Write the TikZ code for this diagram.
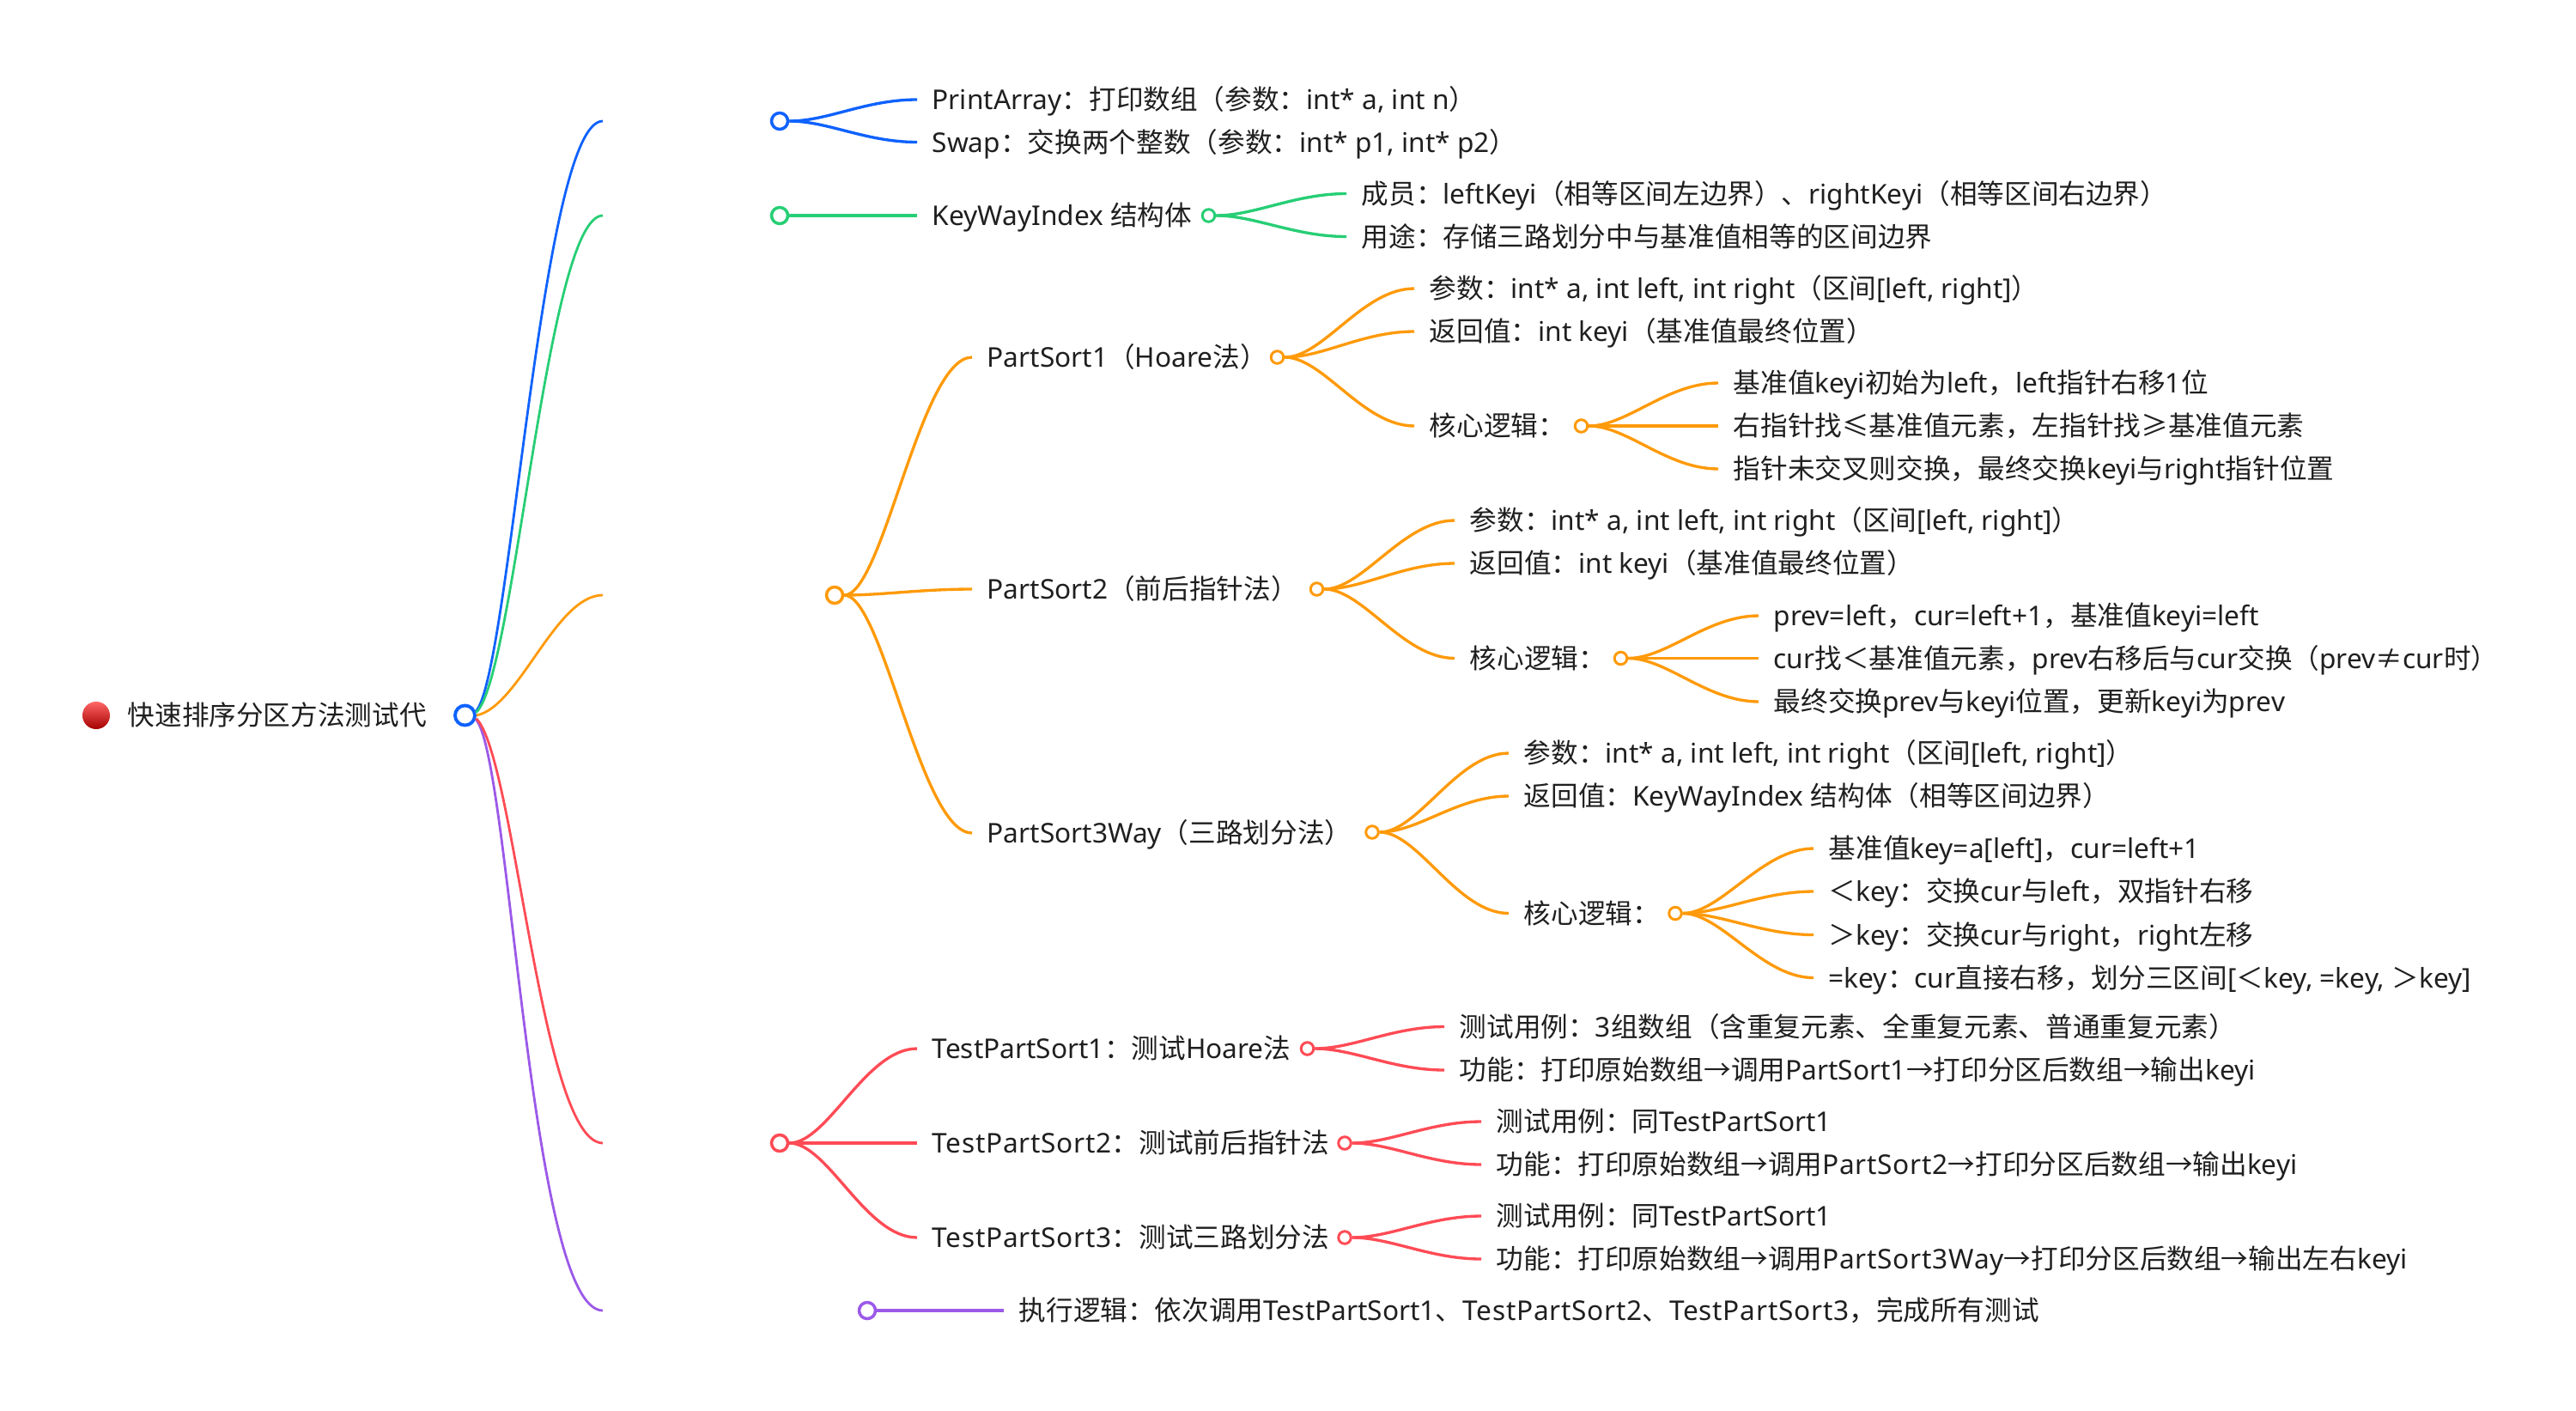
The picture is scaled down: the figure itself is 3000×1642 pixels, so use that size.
\documentclass[tikz,border=0pt]{standalone}
\usepackage{fontspec}
\setmainfont{Noto Sans}
\newfontfamily\cjk{Noto Sans CJK SC}
\XeTeXinterchartokenstate=1
\newXeTeXintercharclass\cjkclass
\newcount\cjkcnt
\cjkcnt="3000
\loop\XeTeXcharclass\cjkcnt=\cjkclass \advance\cjkcnt by 1 \ifnum\cjkcnt<"A000 \repeat
\cjkcnt="FF00
\loop\XeTeXcharclass\cjkcnt=\cjkclass \advance\cjkcnt by 1 \ifnum\cjkcnt<"FF60 \repeat
\XeTeXcharclass"2264=\cjkclass
\XeTeXcharclass"2265=\cjkclass
\XeTeXcharclass"2260=\cjkclass
\XeTeXcharclass"2192=\cjkclass
\XeTeXinterchartoks 0 \cjkclass={\begingroup\cjk}
\XeTeXinterchartoks 4095 \cjkclass={\begingroup\cjk}
\XeTeXinterchartoks \cjkclass 0={\endgroup}
\XeTeXinterchartoks \cjkclass 4095={\endgroup}
\newcommand{\spaced}[1]{{\addfontfeature{LetterSpace=2.3}#1}}
\definecolor{cblue}{HTML}{0F62FE}
\definecolor{cgreen}{HTML}{27CE75}
\definecolor{corange}{HTML}{FF9A0A}
\definecolor{cred}{HTML}{FF4B55}
\definecolor{cpurple}{HTML}{9B59E8}
\tikzset{
  lbl/.style    ={anchor=west, inner ysep=0pt, inner xsep=0.17cm,
                  text height=8.2pt, text depth=1.6pt, text=black!88,
                  font=\fontsize{9}{11}\selectfont},
  dota/.style   ={circle, draw=#1, fill=white, inner sep=0pt,
                  minimum size=1.9mm, line width=1pt},
  dotb/.style   ={circle, draw=#1, fill=white, inner sep=0pt,
                  minimum size=1.45mm, line width=0.85pt},
  trunk/.style  ={draw=#1, line width=0.8pt},
  fan/.style    ={draw=#1, line width=0.95pt,
                  to path={.. controls +(45,0) and +(-60,0) .. (\tikztotarget)}},
}
\begin{document}
\begin{tikzpicture}[x=0.01cm,y=-0.01cm]
  \useasboundingbox (0,0) rectangle (3000,1642);
  % root
  \node[circle, inner sep=0pt, minimum size=3.2mm, top color=red!60!white, middle color=red!90!black, bottom color=red!65!black] (ball) at (112,833) {};
  \node[lbl, inner xsep=0pt] (root) at (148,833) {快速排序分区方法测试代};
  \node[circle, draw=cblue, fill=white, inner sep=0pt, minimum size=2.3mm, line width=1.1pt] (rootdot) at (541.5,833) {};
  % free ends of the main branches
  \coordinate (endblue) at (702,141);
  \coordinate (endgreen) at (702,251);
  \coordinate (endorange) at (702,693);
  \coordinate (endred) at (702,1331);
  \coordinate (endpurple) at (702,1526);
  \draw[trunk=cblue] (rootdot.20) .. controls +(40,-43) and +(-72,0) .. (endblue);
  \draw[trunk=cgreen] (rootdot.15) .. controls +(45,-40) and +(-65,0) .. (endgreen);
  \draw[trunk=corange] (rootdot.east) .. controls +(50,-10) and +(-55,0) .. (endorange);
  \draw[trunk=cpurple] (rootdot.-20) .. controls +(40,43) and +(-85,0) .. (endpurple);
  \draw[trunk=cred] (rootdot.-15) .. controls +(45,43) and +(-72,0) .. (endred);
  % helpers
  \node[dota=cblue] (helpdot) at (908,141) {};
  \node[lbl] (printarr) at (1068,116) {PrintArray：打印数组（参数：int* a, int n）};
  \node[lbl] (swap) at (1068,165.5) {Swap：交换两个整数（参数：int* p1, int* p2）};
  \draw[fan=cblue] (helpdot.east) to (printarr.west);
  \draw[fan=cblue] (helpdot.east) to (swap.west);
  % struct
  \node[dota=cgreen] (structdot) at (908,251) {};
  \node[lbl] (kwi) at (1068,251) {KeyWayIndex 结构体};
  \node[dotb=cgreen] (kwidot) at (1407.5,251) {};
  \node[lbl] (member) at (1568,225.5) {成员：leftKeyi（相等区间左边界）、rightKeyi（相等区间右边界）};
  \node[lbl] (usage) at (1568,275.5) {用途：存储三路划分中与基准值相等的区间边界};
  \draw[draw=cgreen, line width=0.95pt] (structdot.east) -- (kwi.west);
  \draw[fan=cgreen] (kwidot.east) to (member.west);
  \draw[fan=cgreen] (kwidot.east) to (usage.west);
  % partition methods
  \node[dota=corange] (partdot) at (972,693) {};
  \node[lbl] (ps1) at (1132,416) {PartSort1（Hoare法）};
  \node[lbl] (ps2) at (1132,686) {PartSort2（前后指针法）};
  \node[lbl] (ps3) at (1132,970) {PartSort3Way（三路划分法）};
  \draw[fan=corange] (partdot.east) to (ps1.west);
  \draw[fan=corange] (partdot.east) to (ps2.west);
  \draw[fan=corange] (partdot.east) to (ps3.west);
  % PartSort1
  \node[dotb=corange] (ps1dot) at (1487.5,416) {};
  \node[lbl] (ps1arg) at (1647,336) {参数：int* a, int left, int right（区间[left, right]）};
  \node[lbl] (ps1ret) at (1647,386) {返回值：int keyi（基准值最终位置）};
  \node[lbl] (ps1core) at (1647,496) {核心逻辑：};
  \node[dotb=corange] (ps1cdot) at (1841.5,496) {};
  \node[lbl] (ps1a) at (2001,446) {基准值keyi初始为left，left指针右移1位};
  \node[lbl] (ps1b) at (2001,496) {右指针找≤基准值元素，左指针找≥基准值元素};
  \node[lbl] (ps1c) at (2001,546) {指针未交叉则交换，最终交换keyi与right指针位置};
  \draw[fan=corange] (ps1dot.east) to (ps1arg.west);
  \draw[fan=corange] (ps1dot.east) to (ps1ret.west);
  \draw[fan=corange] (ps1dot.east) to (ps1core.west);
  \draw[fan=corange] (ps1cdot.east) to (ps1a.west);
  \draw[fan=corange] (ps1cdot.east) -- (ps1b.west);
  \draw[fan=corange] (ps1cdot.east) to (ps1c.west);
  % PartSort2
  \node[dotb=corange] (ps2dot) at (1533.5,686) {};
  \node[lbl] (ps2arg) at (1694,606) {参数：int* a, int left, int right（区间[left, right]）};
  \node[lbl] (ps2ret) at (1694,656) {返回值：int keyi（基准值最终位置）};
  \node[lbl] (ps2core) at (1694,766.5) {核心逻辑：};
  \node[dotb=corange] (ps2cdot) at (1887.5,766.5) {};
  \node[lbl] (ps2a) at (2048,717) {prev=left，cur=left+1，基准值keyi=left};
  \node[lbl] (ps2b) at (2048,766.5) {cur找＜基准值元素，prev右移后与cur交换（prev≠cur时）};
  \node[lbl] (ps2c) at (2048,817) {最终交换prev与keyi位置，更新keyi为prev};
  \draw[fan=corange] (ps2dot.east) to (ps2arg.west);
  \draw[fan=corange] (ps2dot.east) to (ps2ret.west);
  \draw[fan=corange] (ps2dot.east) to (ps2core.west);
  \draw[fan=corange] (ps2cdot.east) to (ps2a.west);
  \draw[fan=corange] (ps2cdot.east) -- (ps2b.west);
  \draw[fan=corange] (ps2cdot.east) to (ps2c.west);
  % PartSort3Way
  \node[dotb=corange] (ps3dot) at (1598,969) {};
  \node[lbl] (ps3arg) at (1757,877) {参数：int* a, int left, int right（区间[left, right]）};
  \node[lbl] (ps3ret) at (1757,927) {返回值：KeyWayIndex 结构体（相等区间边界）};
  \node[lbl] (ps3core) at (1757,1063.5) {核心逻辑：};
  \node[dotb=corange] (ps3cdot) at (1951,1063.5) {};
  \node[lbl] (ps3a) at (2112,988) {基准值key=a[left]，cur=left+1};
  \node[lbl] (ps3b) at (2112,1038) {＜key：交换cur与left，双指针右移};
  \node[lbl] (ps3c) at (2112,1088.5) {＞key：交换cur与right，right左移};
  \node[lbl] (ps3d) at (2112,1138.5) {=key：cur直接右移，划分三区间[＜key, =key, ＞key]};
  \draw[fan=corange] (ps3dot.east) to (ps3arg.west);
  \draw[fan=corange] (ps3dot.east) to (ps3ret.west);
  \draw[fan=corange] (ps3dot.east) to (ps3core.west);
  \draw[fan=corange] (ps3cdot.east) to (ps3a.west);
  \draw[fan=corange] (ps3cdot.east) to (ps3b.west);
  \draw[fan=corange] (ps3cdot.east) to (ps3c.west);
  \draw[fan=corange] (ps3cdot.east) to (ps3d.west);
  % tests
  \node[dota=cred] (testdot) at (908,1331) {};
  \node[lbl] (t1) at (1068,1221) {TestPartSort1：测试Hoare法};
  \node[lbl] (t2) at (1068,1331) {\spaced{TestPartSort2}：测试前后指针法};
  \node[lbl] (t3) at (1068,1441) {\spaced{TestPartSort3}：测试三路划分法};
  \draw[fan=cred] (testdot.east) to (t1.west);
  \draw[fan=cred] (testdot.east) -- (t2.west);
  \draw[fan=cred] (testdot.east) to (t3.west);
  \node[dotb=cred] (t1dot) at (1522.5,1221) {};
  \node[lbl] (t1a) at (1682,1195.5) {测试用例：3组数组（含重复元素、全重复元素、普通重复元素）};
  \node[lbl] (t1b) at (1682,1246) {功能：打印原始数组→调用PartSort1→打印分区后数组→输出keyi};
  \draw[fan=cred] (t1dot.east) to (t1a.west);
  \draw[fan=cred] (t1dot.east) to (t1b.west);
  \node[dotb=cred] (t2dot) at (1566,1331) {};
  \node[lbl] (t2a) at (1725,1306) {测试用例：同TestPartSort1};
  \node[lbl] (t2b) at (1725,1356) {功能：打印原始数组→调用\spaced{PartSort2}→打印分区后数组→输出keyi};
  \draw[fan=cred] (t2dot.east) to (t2a.west);
  \draw[fan=cred] (t2dot.east) to (t2b.west);
  \node[dotb=cred] (t3dot) at (1566,1441) {};
  \node[lbl] (t3a) at (1725,1416) {测试用例：同TestPartSort1};
  \node[lbl] (t3b) at (1725,1466) {功能：打印原始数组→调用\spaced{PartSort3Way}→打印分区后数组→输出左右keyi};
  \draw[fan=cred] (t3dot.east) to (t3a.west);
  \draw[fan=cred] (t3dot.east) to (t3b.west);
  % run order
  \node[dota=cpurple] (rundot) at (1010,1526) {};
  \node[lbl] (run) at (1169,1526) {执行逻辑：依次调用TestPartSort1、\spaced{TestPartSort2}、\spaced{TestPartSort3}，完成所有测试};
  \draw[draw=cpurple, line width=0.95pt] (rundot.east) -- (run.west);
\end{tikzpicture}
\end{document}
